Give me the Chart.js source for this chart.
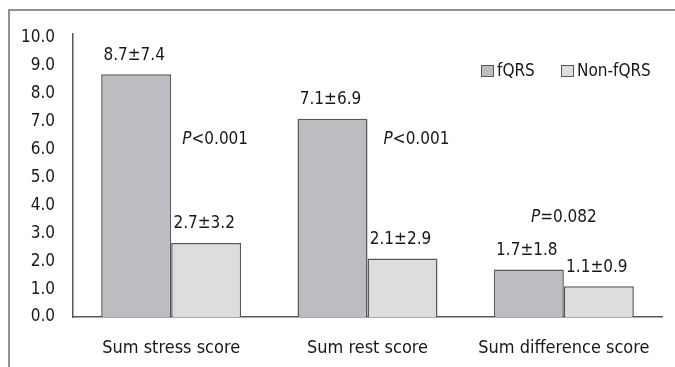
<!DOCTYPE html>
<html>
<head>
<meta charset="utf-8">
<script src="https://cdn.jsdelivr.net/npm/chart.js@4"></script>
<style>
  html, body { margin: 0; padding: 0; background: #fff; }
  #wrap { width: 675px; height: 367px; }
</style>
</head>
<body>
<div id="wrap"><canvas id="myChart"></canvas></div>
<script>
const categories = ["Sum stress score", "Sum rest score", "Sum difference score"];
const seriesNames = ["fQRS", "Non-fQRS"];
const fqrsValues = [8.7, 7.1, 1.7];
const nonFqrsValues = [2.65, 2.1, 1.1];
const fqrsLabels = ["8.7±7.4", "7.1±6.9", "1.7±1.8"];
const nonFqrsLabels = ["2.7±3.2", "2.1±2.9", "1.1±0.9"];
const pValues = ["<0.001", "<0.001", "=0.082"];
const yTicks = [0, 1, 2, 3, 4, 5, 6, 7, 8, 9, 10];

const FONT = '"Liberation Sans Narrow", "DejaVu Sans Condensed", "Roboto", sans-serif';
const TEXT_COLOR = "#1a1718";
const fqrsColor = "#bcbdc0";
const nonFqrsColor = "#dcdddf";
const edgeColor = "#58585a";

// where the P text sits, in data units / category offsets
const pPlace = [
  { dx: 44, y: 6.35 },
  { dx: 49, y: 6.35 },
  { dx: 0, y: 3.55 },
];

const extrasPlugin = {
  id: "extras",
  afterDraw(chart) {
    const ctx = chart.ctx;
    const xs = chart.scales.x;
    const ys = chart.scales.y;
    ctx.save();

    // outer frame (top + left)
    ctx.strokeStyle = "#6d6e71";
    ctx.lineWidth = 1.5;
    ctx.beginPath();
    ctx.moveTo(9, 367);
    ctx.lineTo(9, 10);
    ctx.lineTo(675, 10);
    ctx.stroke();

    ctx.font = "17px " + FONT;
    ctx.fillStyle = TEXT_COLOR;
    ctx.textAlign = "center";
    ctx.textBaseline = "middle";

    // value labels over bars
    [fqrsLabels, nonFqrsLabels].forEach((labels, di) => {
      const meta = chart.getDatasetMeta(di);
      meta.data.forEach((bar, i) => {
        ctx.fillText(labels[i], bar.x - 2, bar.y - 19);
      });
    });

    // P values
    pValues.forEach((p, i) => {
      const cx = xs.getPixelForValue(i) + pPlace[i].dx;
      const cy = ys.getPixelForValue(pPlace[i].y);
      ctx.font = "italic 17px " + FONT;
      const w1 = ctx.measureText("P").width;
      ctx.font = "17px " + FONT;
      const w2 = ctx.measureText(p).width;
      const left = cx - (w1 + w2) / 2;
      ctx.textAlign = "left";
      ctx.font = "italic 17px " + FONT;
      ctx.fillText("P", left, cy);
      ctx.font = "17px " + FONT;
      ctx.fillText(p, left + w1, cy);
      ctx.textAlign = "center";
    });

    // legend
    const legendY = 71;
    const legendX = [481, 561];
    ctx.textAlign = "left";
    chart.data.datasets.forEach((ds, i) => {
      ctx.fillStyle = ds.backgroundColor;
      ctx.strokeStyle = edgeColor;
      ctx.lineWidth = 1;
      ctx.fillRect(legendX[i], legendY - 6, 13, 12);
      ctx.strokeRect(legendX[i] + 0.5, legendY - 5.5, 12, 11);
      ctx.fillStyle = TEXT_COLOR;
      ctx.fillText(ds.label, legendX[i] + 16, legendY + 1);
    });

    ctx.restore();
  },
};

const ctx = document.getElementById("myChart").getContext("2d");
new Chart(ctx, {
  type: "bar",
  data: {
    labels: categories,
    datasets: [
      {
        label: seriesNames[0],
        data: fqrsValues,
        backgroundColor: fqrsColor,
        borderColor: edgeColor,
        borderWidth: 1.5,
      },
      {
        label: seriesNames[1],
        data: nonFqrsValues,
        backgroundColor: nonFqrsColor,
        borderColor: edgeColor,
        borderWidth: 1.5,
      },
    ],
  },
  options: {
    responsive: true,
    maintainAspectRatio: false,
    animation: false,
    devicePixelRatio: 1,
    layout: { padding: { top: 34, right: 13, left: 0, bottom: 0 } },
    datasets: {
      bar: { categoryPercentage: 0.713, barPercentage: 1.0 },
    },
    plugins: {
      legend: { display: false },
      tooltip: { enabled: false },
    },
    scales: {
      x: {
        grid: { display: false, drawTicks: false },
        border: { display: true, color: edgeColor, width: 1.5 },
        ticks: {
          color: TEXT_COLOR,
          font: { family: FONT, size: 18 },
          padding: 21,
          maxRotation: 0,
        },
        afterFit(scale) {
          scale.height = 50;
        },
      },
      y: {
        min: 0,
        max: 10.14,
        grid: { display: false, drawTicks: false },
        border: { display: true, color: edgeColor, width: 1.5 },
        afterBuildTicks(axis) {
          axis.ticks = yTicks.map((v) => ({ value: v }));
        },
        ticks: {
          color: TEXT_COLOR,
          font: { family: FONT, size: 17 },
          padding: 18,
          callback: (v) => Number(v).toFixed(1),
        },
        afterFit(scale) {
          scale.width = 73;
        },
      },
    },
  },
  plugins: [extrasPlugin],
});
</script>
</body>
</html>
